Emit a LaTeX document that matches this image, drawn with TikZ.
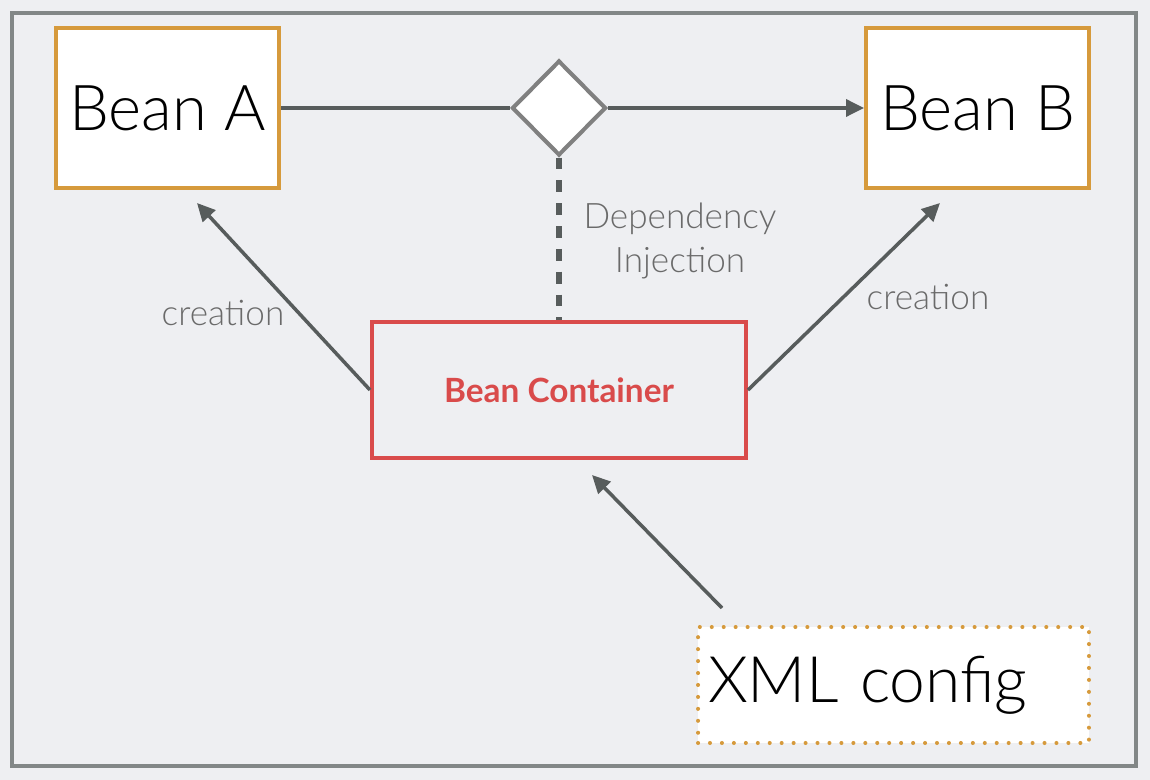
\documentclass[tikz,border=0pt]{standalone}
\usepackage{fontspec}
\IfFontExistsTF{Lato Light}{\setmainfont{Lato Light}}{\setmainfont{Lato}}
\newfontfamily\boldlato{Lato}
\usetikzlibrary{arrows.meta,shapes.geometric}
\definecolor{bgcol}{HTML}{EEEFF2}
\definecolor{framecol}{HTML}{828787}
\definecolor{beancol}{HTML}{D69A3C}
\definecolor{linecol}{HTML}{575C5C}
\definecolor{redcol}{HTML}{D94B4B}
\definecolor{labelcol}{HTML}{6A6A6A}
\begin{document}
\begin{tikzpicture}[x=0.02cm,y=-0.02cm,
  bean/.style={draw=beancol,line width=2.3pt,fill=white,minimum width=4.46cm,
    minimum height=3.2cm,inner sep=0pt,font=\fontsize{36}{42}\selectfont},
  conn/.style={draw=linecol,line width=2pt},
  tip/.style={-{Triangle[length=0.36cm,width=0.34cm]}},
  lbl/.style={text=labelcol,font=\fontsize{20}{25}\selectfont,align=center}]
  \fill[bgcol] (0,0) rectangle (1150,780);
  \draw[framecol,line width=2.3pt] (12,13) rectangle (1136,766);
  % beans and the injection point
  \node[bean] (a) at (167.5,108) {Bean A};
  \node[bean] (b) at (977.5,108) {Bean B};
  \node[diamond,draw=gray,line width=2.3pt,fill=white,minimum width=1.88cm,
    minimum height=1.9cm,inner sep=0pt] (dj) at (559,108) {};
  \node[draw=redcol,line width=2.3pt,minimum width=7.48cm,minimum height=2.72cm,
    text=redcol,font=\boldlato\bfseries\fontsize{19}{23}\selectfont] (bc) at (559,390) {Bean Container};
  \node[draw=beancol,line width=2.3pt,fill=white,dash pattern=on 0pt off 6.8pt,line cap=round,
    text width=7.42cm,align=left,inner xsep=0.2cm,minimum height=2.32cm,
    font=\fontsize{36.5}{42}\selectfont] (xml) at (893.5,685) {XML config};
  % free ends of the creation arrows
  \coordinate (ta) at (197,203);
  \coordinate (tb) at (940,203);
  \coordinate (tc) at (592,475);
  \coordinate (xs) at (722,608);
  \draw[conn] (a.east) -- (dj.west);
  \draw[conn,tip] (dj.east) -- (b.west);
  \draw[conn,line width=3.4pt,dash pattern=on 6.8pt off 6.2pt] (dj.south) -- (bc.north);
  \draw[conn,tip] (bc.west) -- (ta);
  \draw[conn,tip] (bc.east) -- (tb);
  \draw[conn,tip] (xs) -- (tc);
  \node[lbl] (di) at (680,241) {Dependency\\Injection};
  \node[lbl] (ca) at (223,313) {creation};
  \node[lbl] (cb) at (928,297) {creation};
\end{tikzpicture}
\end{document}
